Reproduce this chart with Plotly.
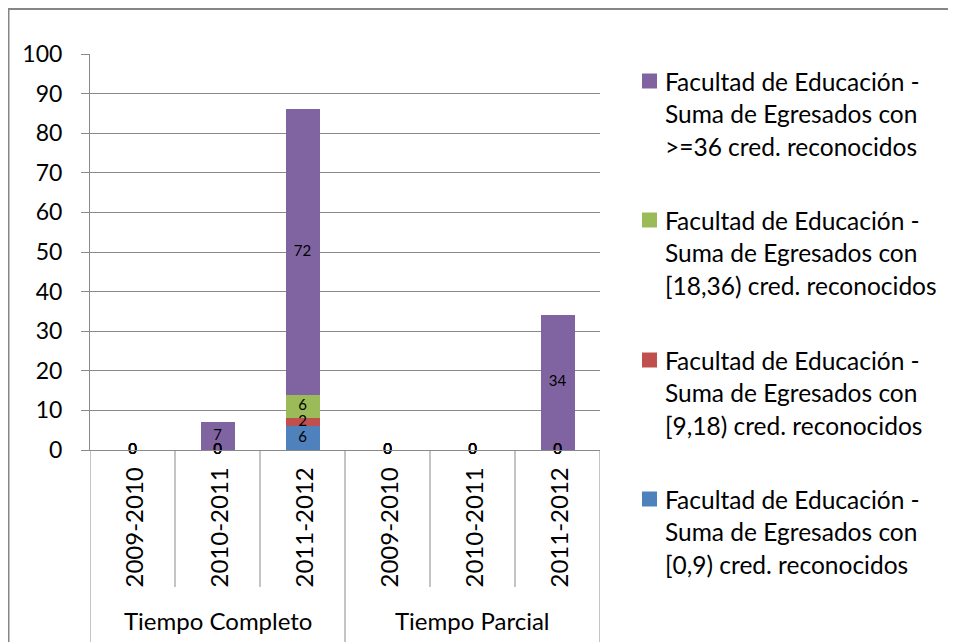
import plotly.graph_objects as go

groups = ["Tiempo Completo", "Tiempo Parcial"]
years = ["2009-2010", "2010-2011", "2011-2012", "2009-2010", "2010-2011", "2011-2012"]
series_names = [
    "Facultad de Educación - Suma de Egresados con [0,9) cred. reconocidos",
    "Facultad de Educación - Suma de Egresados con [9,18) cred. reconocidos",
    "Facultad de Educación - Suma de Egresados con [18,36) cred. reconocidos",
    "Facultad de Educación - Suma de Egresados con >=36 cred. reconocidos",
]
legend_lines = [
    ["Facultad de Educación -", "Suma de Egresados con", "[0,9) cred. reconocidos"],
    ["Facultad de Educación -", "Suma de Egresados con", "[9,18) cred. reconocidos"],
    ["Facultad de Educación -", "Suma de Egresados con", "[18,36) cred. reconocidos"],
    ["Facultad de Educación -", "Suma de Egresados con", ">=36 cred. reconocidos"],
]
v_0_9 = [0, 0, 6, 0, 0, 0]
v_9_18 = [0, 0, 2, 0, 0, 0]
v_18_36 = [0, 0, 6, 0, 0, 0]
v_36 = [0, 7, 72, 0, 0, 34]
y_ticks = [0, 10, 20, 30, 40, 50, 60, 70, 80, 90, 100]

colors = ["#4F81BD", "#C0504D", "#9BBB59", "#8064A2"]
values = [v_0_9, v_9_18, v_18_36, v_36]
FONT = "Lato"
GRID = "#898989"

OFF = 8  # page body margin
W, H = 956 - OFF, 642 - OFF
# plot area in page pixels
PL, PR, PT, PB = 90, 600, 54, 450
L, R, T, B = PL - OFF, PR - OFF, PT - OFF, PB - OFF


def px_x(p):  # page pixel -> paper x
    return (p - PL) / (PR - PL)


def px_y(p):  # page pixel -> paper y
    return (PB - p) / (PB - PT)


x = list(range(len(years)))
fig = go.Figure()

for name, vals, col in zip(series_names, values, colors):
    fig.add_trace(go.Bar(x=x, y=vals, name=name, marker=dict(color=col, line=dict(width=0)),
                         width=0.4, showlegend=False))

# data labels at segment centres
base = [0] * len(x)
for vals in values:
    ys = [b + v / 2 for b, v in zip(base, vals)]
    fig.add_trace(go.Scatter(x=x, y=ys, mode="text", text=[str(v) for v in vals],
                             textposition="middle center",
                             textfont=dict(family=FONT, size=15, color="#000000"),
                             showlegend=False, cliponaxis=False, hoverinfo="skip"))
    base = [b + v for b, v in zip(base, vals)]

shapes = []
# separators below axis
for k in [0.5, 1.5, 3.5, 4.5]:
    shapes.append(dict(type="line", xref="x", yref="paper", x0=k, x1=k,
                       y0=0, y1=px_y(587), line=dict(color=GRID, width=1)))
for k in [-0.5, 2.5, 5.5]:
    shapes.append(dict(type="line", xref="x", yref="paper", x0=k, x1=k,
                       y0=0, y1=px_y(660), line=dict(color=GRID, width=1)))
# chart border: left and top edges (right/bottom lie outside the picture)
shapes.append(dict(type="line", xref="paper", yref="paper", x0=px_x(8.5), x1=px_x(8.5),
                   y0=px_y(700), y1=px_y(8), line=dict(color="#868686", width=2)))
shapes.append(dict(type="line", xref="paper", yref="paper", x0=px_x(7.5), x1=px_x(1000),
                   y0=px_y(9), y1=px_y(9), line=dict(color="#868686", width=2)))

annotations = []
# group labels
for gi, g in enumerate(groups):
    annotations.append(dict(x=gi * 3 + 1, y=px_y(620), xref="x", yref="paper", text=g,
                            showarrow=False, font=dict(family=FONT, size=24, color="#000000"),
                            xanchor="center", yanchor="middle"))
# year labels
for i, yr in enumerate(years):
    annotations.append(dict(x=i, y=px_y(466), xref="x", yref="paper", text=yr, textangle=-90,
                            showarrow=False, font=dict(family=FONT, size=24, color="#000000"),
                            xanchor="center", yanchor="top"))
# legend (top to bottom: >=36, [18,36), [9,18), [0,9))
entry_y = [81, 220, 360, 499]
order = [3, 2, 1, 0]
for ey, si in zip(entry_y, order):
    shapes.append(dict(type="rect", xref="paper", yref="paper",
                       x0=px_x(642), x1=px_x(657), y0=px_y(ey + 7.5), y1=px_y(ey - 7.5),
                       fillcolor=colors[si], line=dict(width=0)))
    for li, line in enumerate(legend_lines[si]):
        annotations.append(dict(x=px_x(663), y=px_y(ey + li * 32.5), xref="paper", yref="paper",
                                text=line, showarrow=False, xanchor="left", yanchor="middle",
                                font=dict(family=FONT, size=24.5, color="#000000")))

fig.update_layout(
    width=W, height=H,
    margin=dict(l=L, r=W - R, t=T, b=H - B, pad=0),
    paper_bgcolor="white", plot_bgcolor="white",
    barmode="stack", bargap=0,
    font=dict(family=FONT, size=23, color="#000000"),
    shapes=shapes, annotations=annotations,
    xaxis=dict(range=[-0.5, 5.5], showticklabels=False, showgrid=False, zeroline=False,
               showline=True, linecolor=GRID, linewidth=1, ticks=""),
    yaxis=dict(range=[0, 100], tickvals=y_ticks, showgrid=True, gridcolor=GRID, gridwidth=1,
               zeroline=False, showline=True, linecolor=GRID, linewidth=1,
               ticks="outside", ticklen=8, tickcolor=GRID, tickwidth=1,
               ticklabelstandoff=14,
               tickfont=dict(family=FONT, size=23, color="#000000")),
)

fig.write_html(
    "out.html",
    post_script="document.documentElement.style.overflow='hidden';document.body.style.overflow='hidden';",
)
